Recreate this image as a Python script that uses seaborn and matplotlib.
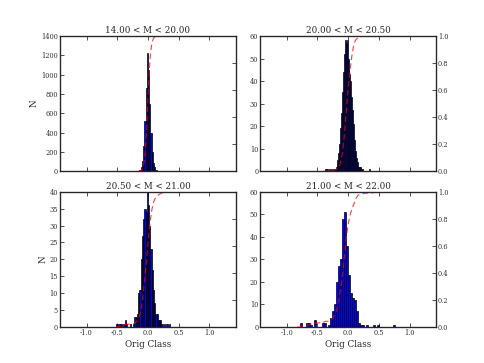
import numpy as np
import pandas as pd
import matplotlib
matplotlib.use("Agg")
import matplotlib.pyplot as plt
import seaborn as sns

# Panel titles (magnitude ranges)
titles = ["14.00 < M < 20.00", "20.00 < M < 20.50",
          "20.50 < M < 21.00", "21.00 < M < 22.00"]

# Histogram counts per magnitude bin
tl_range = (-0.16, 0.20)
tl_counts = [5, 15, 40, 110, 260, 520, 860, 1220, 1050, 700,
             400, 200, 90, 40, 15, 8, 3, 2]

tr_range = (-0.40, 0.35)
tr_counts = [0, 0, 1, 1, 1, 0, 1, 0, 1, 0,
             1, 1, 1, 2, 3, 5, 8, 12, 19, 26,
             35, 44, 52, 58, 57, 58, 50, 45, 43, 40,
             33, 27, 21, 14, 9, 6, 4, 2, 2, 1,
             2, 1, 1, 0, 0, 0, 0, 0, 0, 1]

bl_range = (-0.52, 0.36)
bl_counts = [1, 0, 1, 1, 1, 0, 1, 2, 1, 0,
             0, 1, 0, 0, 1, 3, 3, 4, 10, 11,
             20, 27, 32, 35, 34, 41, 36, 30, 23, 17,
             11, 7, 4, 4, 2, 2, 2, 1, 0, 1,
             0, 1, 0, 1]

br_range = (-0.825, 0.825)
br_counts = [0, 2, 0, 0, 2, 2, 1, 0, 3, 0,
             0, 0, 2, 2, 0, 1, 4, 7, 10, 20,
             27, 30, 48, 51, 36, 23, 15, 13, 12, 7,
             2, 1, 1, 0, 1, 0, 0, 1, 0, 1,
             0, 0, 0, 0, 0, 0, 0, 1, 0, 0]

ranges = [tl_range, tr_range, bl_range, br_range]
counts = [tl_counts, tr_counts, bl_counts, br_counts]
ymax = [1400, 60, 40, 60]
ystep = [200, 10, 5, 10]

sns.set_style("ticks", {"xtick.direction": "in", "ytick.direction": "in"})
plt.rcParams["font.family"] = ["DejaVu Serif"]
plt.rcParams["xtick.top"] = True

fig, axes = plt.subplots(2, 2, figsize=(4.85, 3.63), dpi=100)
fig.subplots_adjust(left=0.124, right=0.899, top=0.901, bottom=0.099,
                    wspace=0.14, hspace=0.15)

for i, ax in enumerate(axes.flat):
    c = np.array(counts[i], dtype=float)
    edges = np.linspace(ranges[i][0], ranges[i][1], len(c) + 1)
    df = pd.DataFrame({"cls": 0.5 * (edges[:-1] + edges[1:]), "n": c})

    sns.histplot(data=df, x="cls", weights="n", bins=len(c),
                 binrange=ranges[i], ax=ax, color="blue",
                 edgecolor="black", linewidth=0.5, alpha=1)

    ax.set_xlim(-1.43, 1.43)
    ax.set_ylim(0, ymax[i])
    ax.set_xticks([-1.0, -0.5, 0.0, 0.5, 1.0])
    ax.set_yticks(np.arange(0, ymax[i] + 1, ystep[i]))
    ax.tick_params(labelsize=4.8, length=3, width=0.6, colors="#333333",
                   top=True, right=False, pad=1.5)
    ax.set_title(titles[i], fontsize=6.3, pad=2)
    for s in ax.spines.values():
        s.set_linewidth(0.9)

    if i < 2:
        ax.set_xlabel("")
        ax.tick_params(labelbottom=False)
    else:
        ax.set_xlabel("Orig Class", fontsize=6.3, labelpad=2)
        ax.set_xticklabels(["-1.0", "-0.5", "0.0", "0.5", "1.0"])
    if i % 2 == 0:
        ax.set_ylabel("N", fontsize=6.3, labelpad=1.5)
    else:
        ax.set_ylabel("")

    # cumulative fraction on a twin axis
    cdf = np.concatenate([[0.0], np.cumsum(c) / c.sum()])
    ax2 = ax.twinx()
    sns.lineplot(x=edges, y=cdf, ax=ax2, color="red",
                 linestyle=(0, (5, 3)), linewidth=0.8, alpha=0.75)
    ax2.set_ylim(0, 1.0)
    ax2.set_yticks([0.0, 0.2, 0.4, 0.6, 0.8, 1.0])
    ax2.set_yticklabels(["0.0", "0.2", "0.4", "0.6", "0.8", "1.0"])
    ax2.tick_params(labelsize=4.8, length=3, width=0.6, colors="#333333",
                    direction="in", pad=1.5)
    ax2.set_ylabel("")
    if i % 2 == 0:
        ax2.tick_params(labelright=False)

fig.savefig("out.png", dpi=100)
